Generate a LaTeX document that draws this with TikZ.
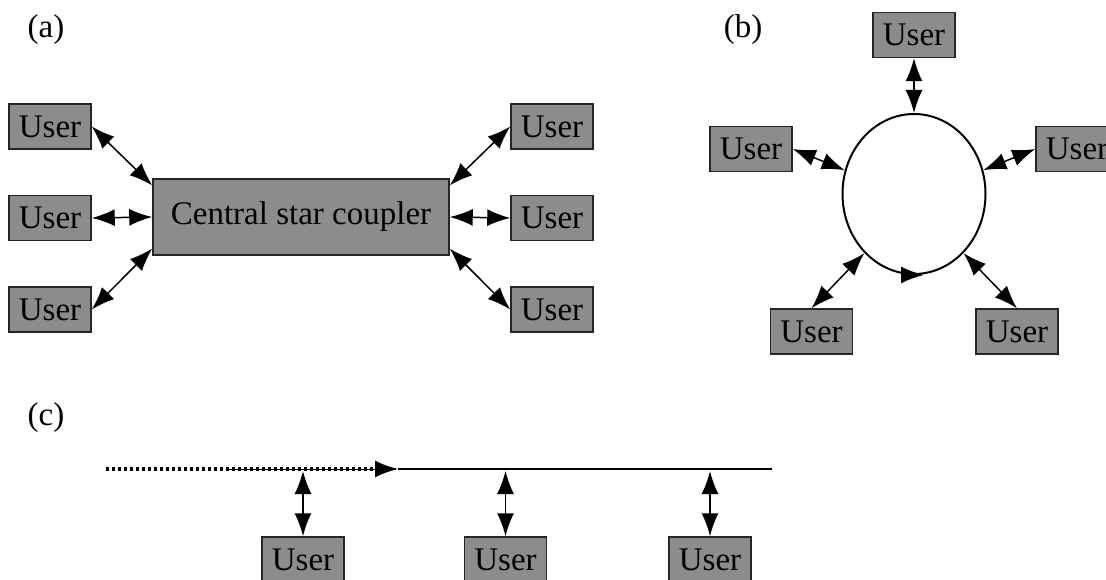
\documentclass[tikz,border=0pt]{standalone}
\usepackage{fontspec}
\setmainfont{Liberation Serif}
\usetikzlibrary{arrows.meta,shapes.geometric}
\newcommand{\boxcolor}{black!45!white}
\newcommand{\edgecolor}{black!85!white}
\newcommand{\boxw}{82}
\newcommand{\boxh}{45}

\begin{document}
\begin{tikzpicture}[x=1pt, y=-1pt,
    user/.style={draw=\edgecolor, line width=1.5pt, fill=\boxcolor, minimum width=\boxw pt,
        minimum height=\boxh pt, inner sep=0pt, font=\fontsize{33}{36}\selectfont},
    link/.style={{Latex[length=23pt,width=17pt]}-{Latex[length=23pt,width=17pt]}, line width=1.5pt},
    flow/.style={-{Latex[length=23pt,width=17pt]}},
    tag/.style={font=\fontsize{33}{36}\selectfont}]
        \useasboundingbox (0, 0) rectangle (1106, 580);

        % (a) star
        \node [tag] (taga) at (46, 30) {(a)};
        \node [user, minimum width=296pt, minimum height=76pt] (star) at (301, 217) {Central star coupler};
        \node [user] (lu1) at (50, 126.5) {User};
        \node [user] (lu2) at (50, 218) {User};
        \node [user] (lu3) at (50, 309.5) {User};
        \node [user] (ru1) at (552, 126.5) {User};
        \node [user] (ru2) at (552, 218) {User};
        \node [user] (ru3) at (552, 309.5) {User};

        \draw [link] (lu1.east) -- (star.168);
        \draw [link] (lu2.east) -- (star.west);
        \draw [link] (lu3.east) -- (star.192);
        \draw [link] (ru1.west) -- (star.12);
        \draw [link] (ru2.west) -- (star.east);
        \draw [link] (ru3.west) -- (star.348);

        % (b) ring
        \node [tag] (tagb) at (743, 30) {(b)};
        \node [ellipse, draw, line width=2pt, minimum width=143pt, minimum height=160pt] (ring) at (914, 194) {};
        \node [user] (bt) at (914, 35) {User};
        \node [user] (bl) at (751, 149) {User};
        \node [user] (br) at (1077, 149) {User};
        \node [user] (bbl) at (811.5, 331.5) {User};
        \node [user] (bbr) at (1017, 331.5) {User};

        \draw [link] (bt.south) -- (ring.north);
        \draw [link] (bl.east) -- (ring.161);
        \draw [link] (br.west) -- (ring.19);
        \draw [link] (bbl.north) -- (ring.230);
        \draw [link] (bbr.north) -- (ring.310);
        \draw [flow, line width=2pt] ([xshift=6pt]ring.south) -- ([xshift=10pt]ring.south);

        % (c) bus
        \node [tag] (tagc) at (46, 418) {(c)};
        \coordinate (busL) at (106, 469);
        \coordinate (busD) at (228, 469);
        \coordinate (busM) at (398, 469);
        \coordinate (busR) at (772, 469);
        \draw [line width=3.5pt, dash pattern=on 3pt off 3pt] (busL) -- ([xshift=-16pt]busM);
        \draw [line width=1pt] (busD) -- ([xshift=-16pt]busM);
        \draw [flow, line width=2pt] ([xshift=-2pt]busM) -- (busM);
        \draw [line width=1.5pt] (busM) -- (busR);

        \node [user] (c1) at (303, 559.5) {User};
        \node [user] (c2) at (505.5, 559.5) {User};
        \node [user] (c3) at (710, 559.5) {User};
        \coordinate (t1) at (303, 471);
        \coordinate (t2) at (505.5, 471);
        \coordinate (t3) at (710, 471);

        \draw [link] (c1.north) -- (t1);
        \draw [link] (c2.north) -- (t2);
        \draw [link] (c3.north) -- (t3);
    \end{tikzpicture}
\end{document}
